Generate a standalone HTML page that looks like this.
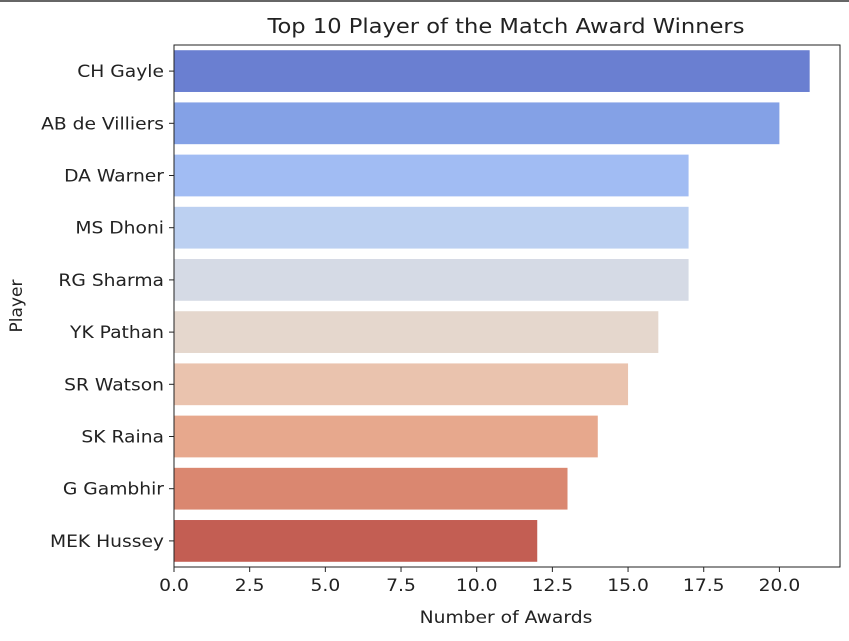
<!DOCTYPE html>
<html><head><meta charset="utf-8"><style>
html,body{margin:0;padding:0;background:#fff;width:849px;height:641px;overflow:hidden}
text{font-family:"DejaVu Sans","Liberation Sans",sans-serif;fill:#222}
</style></head><body>
<svg id="chart" width="849" height="641" xmlns="http://www.w3.org/2000/svg">
<line x1="0" y1="1" x2="849" y2="1" stroke="#333" stroke-width="1.5"/>
<text transform="translate(506,33) scale(1.13,1)" font-size="20" text-anchor="middle">Top 10 Player of the Match Award Winners</text>
<g id="bars"></g><g id="yaxis"></g><g id="xaxis"></g>
<rect x="174" y="45" width="666" height="522" fill="none" stroke="#222" stroke-width="1"/>
<text transform="translate(506,623) scale(1.1,1)" font-size="17" text-anchor="middle">Number of Awards</text>
<text transform="translate(22,306) rotate(-90)" font-size="17" text-anchor="middle">Player</text>
</svg>
<script>
const players=["CH Gayle","AB de Villiers","DA Warner","MS Dhoni","RG Sharma","YK Pathan","SR Watson","SK Raina","G Gambhir","MEK Hussey"];
const awards=[21,20,17,17,17,16,15,14,13,12];
const colors=["#6a7fd1","#84a1e6","#a1bcf3","#bcd0f1","#d5dae5","#e5d7cd","#eac3ae","#e7a88d","#da8770","#c35e53"];
const xTicks=[0,2.5,5,7.5,10,12.5,15,17.5,20];
const xTickLabels=["0.0","2.5","5.0","7.5","10.0","12.5","15.0","17.5","20.0"];
const NS="http://www.w3.org/2000/svg";
const plotX0=174,unit=30.27,plotTop=45,plotBottom=567;
const band=(plotBottom-plotTop)/players.length;
const xs=v=>plotX0+v*unit;
const yc=i=>plotTop+band*(i+0.5);
const barsG=document.getElementById('bars'),ya=document.getElementById('yaxis'),xa=document.getElementById('xaxis');
function mk(t,a){const e=document.createElementNS(NS,t);for(const k in a)e.setAttribute(k,a[k]);return e;}
players.forEach((p,i)=>{
  const r=mk('rect',{x:xs(0),y:yc(i)-band*0.4,width:xs(awards[i])-xs(0),height:band*0.8,fill:colors[i]});
  
  
  barsG.appendChild(r);
  const tk=mk('line',{x1:plotX0-5,x2:plotX0,y1:yc(i),y2:yc(i),stroke:'#222'});
  
  
  ya.appendChild(tk);
  const t=mk('text',{transform:'translate('+(plotX0-10)+','+(yc(i)+6)+') scale(1.1,1)','font-size':17,'text-anchor':'end'});
  t.textContent=p;
  
  
  ya.appendChild(t);
});
xTicks.forEach((v,i)=>{
  const tk=mk('line',{x1:xs(v),x2:xs(v),y1:plotBottom,y2:plotBottom+5,stroke:'#222'});
  
  
  xa.appendChild(tk);
  const t=mk('text',{transform:'translate('+xs(v)+','+(plotBottom+24)+') scale(1.1,1)','font-size':17,'text-anchor':'middle'});
  t.textContent=xTickLabels[i];
  
  
  xa.appendChild(t);
});
</script>
</body></html>
